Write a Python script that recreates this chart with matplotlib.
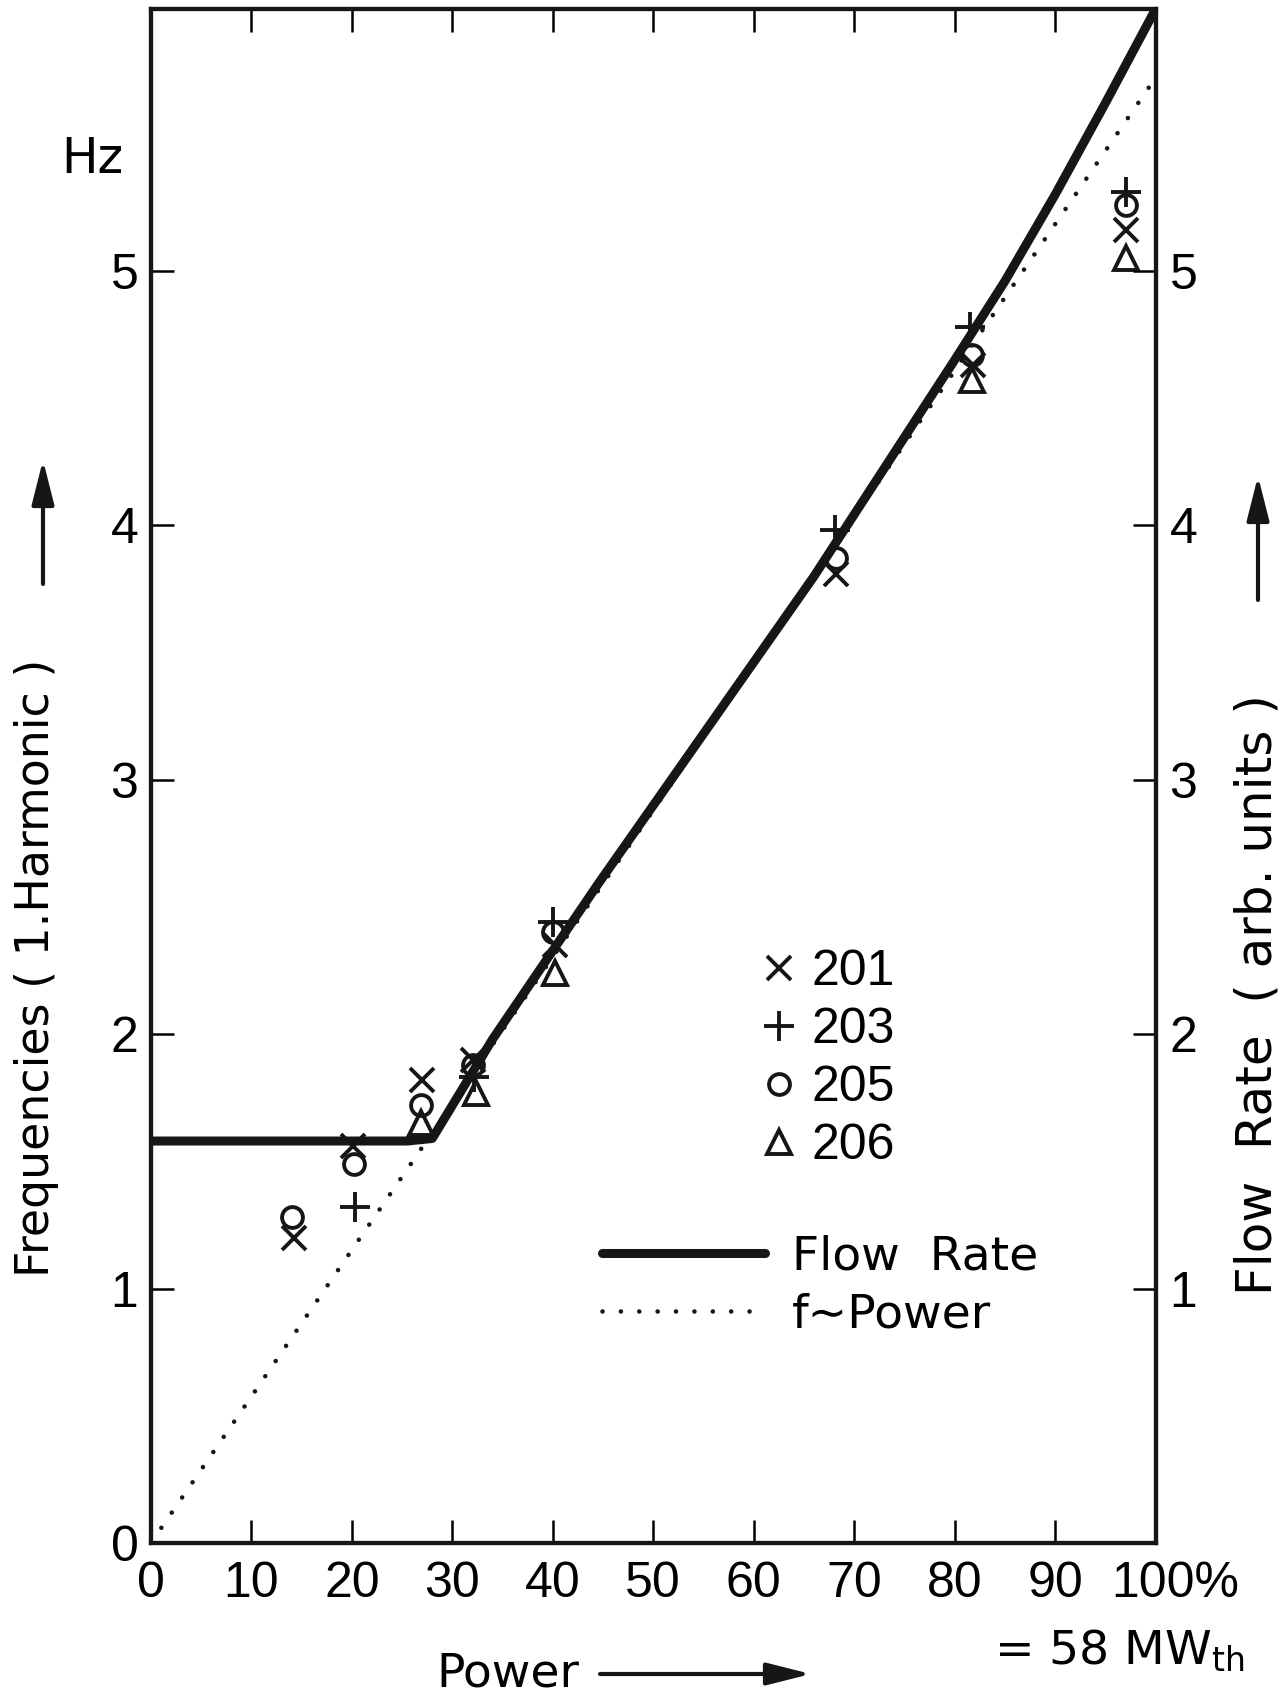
import numpy as np
import matplotlib.pyplot as plt
import matplotlib.transforms as mtransforms
from matplotlib.lines import Line2D

# Durchflusskurve (Flow Rate) und Proportionalgerade f ~ Leistung
flow_x = [0, 25.5, 28, 34, 44.5, 66, 80, 85, 90, 95, 100]
flow_y = [1.58, 1.58, 1.59, 1.98, 2.59, 3.80, 4.65, 4.96, 5.30, 5.66, 6.03]
prop_x = [0, 100]
prop_y = [0, 5.76]

# Messpunkte, 1. Harmonische
x201 = [14.2, 20.1, 27.0, 32.1, 40.2, 68.2, 81.8, 97.1]
y201 = [1.20, 1.56, 1.82, 1.90, 2.35, 3.81, 4.63, 5.16]
x203 = [20.3, 32.2, 40.0, 68.1, 81.5, 97.1]
y203 = [1.32, 1.83, 2.44, 3.98, 4.78, 5.31]
x205 = [14.0, 20.2, 26.9, 32.1, 40.0, 68.2, 81.7, 97.1]
y205 = [1.28, 1.49, 1.72, 1.88, 2.40, 3.87, 4.67, 5.26]
x206 = [26.9, 32.4, 40.2, 81.7, 97.1]
y206 = [1.65, 1.77, 2.24, 4.57, 5.05]

xticks = [0, 10, 20, 30, 40, 50, 60, 70, 80, 90, 100]
xlabels = ['0', '10', '20', '30', '40', '50', '60', '70', '80', '90', '100%']

ziffern = ['Liberation Sans', 'DejaVu Sans']
schrift = ['DejaVu Sans']
k = '#161616'

fig = plt.figure(figsize=(12.88, 16.95), dpi=100)
ax = fig.add_axes([0.1172, 0.0897, 0.7800, 0.9050])

ax.plot(prop_x, prop_y, color=k, lw=3.3, linestyle=(0, (0.01, 4.0)),
        dash_capstyle='round', label='f\u223cPower')
ax.plot(flow_x, flow_y, color=k, lw=6.5, solid_capstyle='butt',
        solid_joinstyle='round', label='Flow Rate')

mk = dict(linestyle='none', color=k, mec=k, mew=2.8)
m1, = ax.plot(x201, y201, marker='x', ms=17, label='201', **mk)
m2, = ax.plot(x203, y203, marker='+', ms=21, label='203', **mk)
m3, = ax.plot(x205, y205, marker='o', ms=15, mfc='none', label='205', **mk)
m4, = ax.plot(x206, y206, marker='^', ms=17, mfc='none', label='206', **mk)

ax.set_xlim(0, 100)
ax.set_ylim(0, 6.03)
ax.set_xticks(xticks)
ax.set_xticklabels(xlabels, family=ziffern, fontsize=36)
ax.set_yticks([0, 1, 2, 3, 4, 5])
ax.set_yticklabels(['0', '1', '2', '3', '4', '5'], family=ziffern, fontsize=36)
ax.tick_params(direction='in', length=16.5, width=1.8, top=True)
ax.tick_params(axis='x', pad=13)
ax.tick_params(axis='y', pad=9)
for s in ax.spines.values():
    s.set_linewidth(3)
    s.set_color(k)
# "100%": die Zahl steht unter dem Strich, das Prozentzeichen rechts daneben
lab100 = ax.get_xticklabels()[-1]
lab100.set_transform(lab100.get_transform() +
                     mtransforms.ScaledTranslation(0.2, 0, fig.dpi_scale_trans))

ax2 = ax.twinx()
ax2.set_ylim(0, 6.03)
ax2.set_yticks([1, 2, 3, 4, 5])
ax2.set_yticklabels(['1', '2', '3', '4', '5'], family=ziffern, fontsize=36)
ax2.tick_params(direction='in', length=16.5, width=1.8, pad=10)
for s in ax2.spines.values():
    s.set_linewidth(3)
    s.set_color(k)

# Legenden ohne Rahmen
leg1 = ax.legend(handles=[m1, m2, m3, m4], loc='upper left',
                 bbox_to_anchor=(0.5735, 0.4548), bbox_transform=fig.transFigure,
                 frameon=False, borderpad=0, handlelength=0.6, handletextpad=0.36,
                 labelspacing=0.24, prop={'family': ziffern, 'size': 36})
ax.add_artist(leg1)
h_flow = Line2D([], [], color=k, lw=6.5, solid_capstyle='round')
h_prop = Line2D([], [], color=k, lw=3.3, linestyle=(0, (0.01, 4.0)),
                dash_capstyle='round')
ax.legend(handles=[h_flow, h_prop], labels=['Flow  Rate', 'f\u223cPower'],
          loc='upper left', bbox_to_anchor=(0.449, 0.2856),
          bbox_transform=fig.transFigure, frameon=False, borderpad=0,
          handlelength=3.45, handletextpad=0.58, labelspacing=0.27,
          prop={'family': schrift, 'size': 34})

# Achsenbeschriftungen
fig.text(0.0714, 0.9062, 'Hz', family=schrift, fontsize=35, ha='center', va='center')
fig.text(0.0287, 0.4289, 'Frequencies ( 1.Harmonic )', family=schrift, fontsize=33,
         rotation=90, ha='center', va='center')
fig.text(0.976, 0.413, 'Flow  Rate  ( arb. units )', family=schrift, fontsize=36,
         rotation=90, ha='center', va='center')
fig.text(1119 / 1288, 1 - 1651 / 1695, '= 58 MW$_{\\mathregular{th}}$', family=schrift,
         fontsize=34, ha='center', va='center')
fig.text(508 / 1288, 1 - 1674 / 1695, 'Power', family=schrift, fontsize=34,
         ha='center', va='center')

pfeil = dict(arrowstyle='-|>,head_length=1.35,head_width=0.34', color=k, lw=3,
             shrinkA=0, shrinkB=0, mutation_scale=20)
ax.annotate('', xy=(43, 1695 - 460), xytext=(43, 1695 - 584),
            xycoords='figure pixels', textcoords='figure pixels', arrowprops=pfeil)
ax.annotate('', xy=(1258, 1695 - 476), xytext=(1258, 1695 - 600),
            xycoords='figure pixels', textcoords='figure pixels', arrowprops=pfeil)
ax.annotate('', xy=(811, 1695 - 1674), xytext=(600, 1695 - 1674),
            xycoords='figure pixels', textcoords='figure pixels', arrowprops=pfeil)

plt.savefig('out.png', dpi=100)
